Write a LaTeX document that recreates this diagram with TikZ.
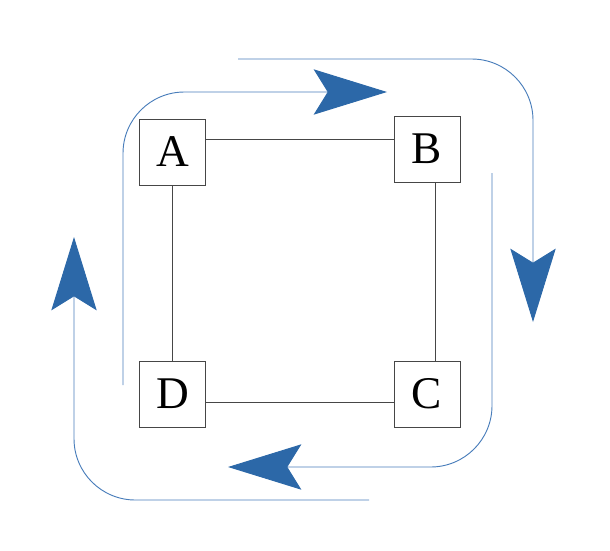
\documentclass[tikz,border=0pt]{standalone}
\usepackage{fontspec}
\setmainfont{Liberation Serif}
\usetikzlibrary{arrows.meta}
\definecolor{flowblue}{RGB}{74,126,187}
\definecolor{tipblue}{RGB}{44,104,168}
\definecolor{boxgray}{RGB}{70,70,70}
\begin{document}
\begin{tikzpicture}[x=0.75pt,y=-0.75pt,
  box/.style={draw=boxgray,line width=0.75pt,minimum size=49.5pt,inner sep=0pt,font=\fontsize{34}{40}\selectfont},
  link/.style={boxgray,line width=0.75pt},
  flow/.style={flowblue,line width=0.7pt,rounded corners=46pt,-{Stealth[length=55pt,width=34pt,inset=10.5pt,color=tipblue]}}]
\useasboundingbox (0,0) rectangle (610,550);
\node[box] (A) at (172.5,152) {A};
\node[box] (B) at (427,149) {B};
\node[box] (C) at (427,394) {C};
\node[box] (D) at (172.5,394) {D};
\draw[link] (A.20) -- (A.20 -| B.west);
\draw[link] (B.-76) -- (B.-76 |- C.north);
\draw[link] (D.-14) -- (D.-14 -| C.west);
\draw[link] (A.south) -- (D.north);
\coordinate (s1) at (123,385);
\coordinate (e1) at (387,92);
\coordinate (s2) at (238,59);
\coordinate (e2) at (533,322);
\coordinate (s3) at (492,173);
\coordinate (e3) at (228,467);
\coordinate (s4) at (369,500);
\coordinate (e4) at (74,237);
\draw[flow] (s1) |- (e1);
\draw[flow] (s2) -| (e2);
\draw[flow] (s3) |- (e3);
\draw[flow] (s4) -| (e4);
\end{tikzpicture}
\end{document}
